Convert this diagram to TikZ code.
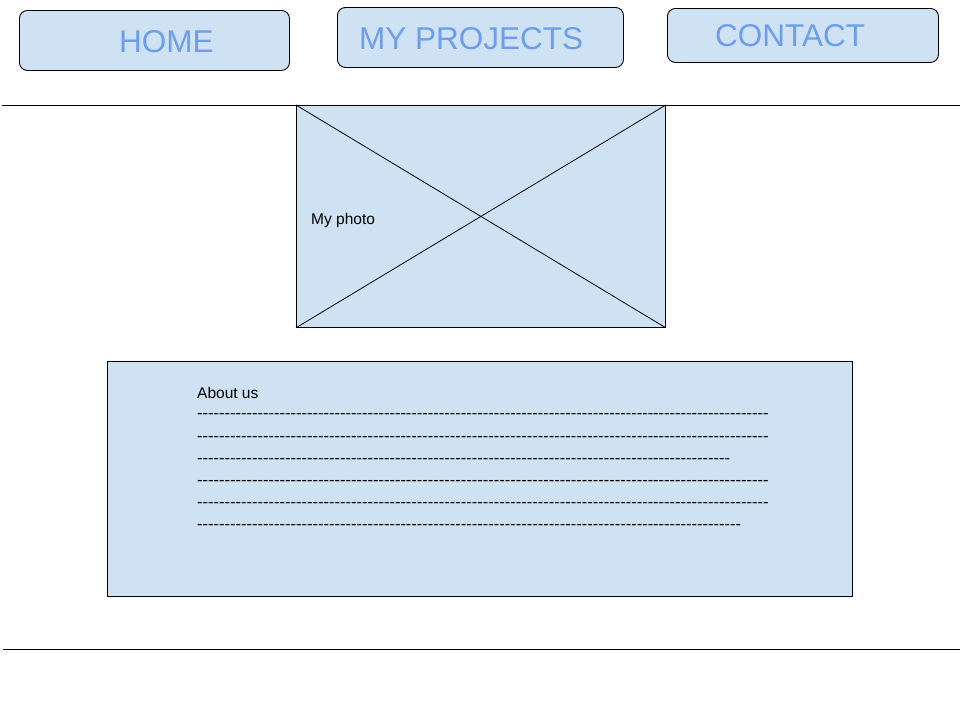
\documentclass[tikz,border=0pt]{standalone}
\usepackage{fontspec}
\setmainfont{Liberation Sans}
\definecolor{paneblue}{HTML}{CFE2F3}
\definecolor{navtext}{HTML}{6D9EEB}
% a row of n plain hyphens (kept apart so no dash ligature forms)
\def\hyrow#1{\ifnum#1>0 -{}\expandafter\hyrow\expandafter{\the\numexpr#1-1\relax}\fi}
\tikzset{
  navbtn/.style={draw=black, line width=0.9pt, fill=paneblue, rounded corners=8pt,
    anchor=north west, inner sep=0pt},
  navlabel/.style={anchor=base west, inner sep=0pt, text=navtext,
    font=\fontsize{31.5}{31.5}\selectfont},
  panel/.style={draw=black, line width=0.8pt, fill=paneblue, anchor=north west, inner sep=0pt},
  bodytext/.style={anchor=base west, inner sep=0pt, font=\fontsize{15.5}{15.5}\selectfont},
  dashrow/.style={anchor=base west, inner sep=0pt, font=\fontsize{16.5}{16.5}\selectfont},
  rule/.style={line width=0.9pt},
}
\begin{document}
\begin{tikzpicture}[x=1pt,y=-1pt]
\useasboundingbox[fill=white] (0,0) rectangle (960,720);

% navigation buttons
\node[navbtn, minimum width=270pt, minimum height=60pt] (home) at (19,10) {};
\node[navbtn, minimum width=286pt, minimum height=60pt] (proj) at (337,7) {};
\node[navbtn, minimum width=271pt, minimum height=54pt] (cont) at (667,8) {};
\node[navlabel] (homet) at (119,52) {HOME};
\node[navlabel] (projt) at (359,49) {MY PROJECTS};
\node[navlabel] (contt) at (715,46) {CONTACT};

% header and footer rules
\coordinate (hl) at (2,105);
\coordinate (hr) at (960,105);
\coordinate (fl) at (3,649);
\coordinate (fr) at (960,649);

% photo placeholder
\node[panel, minimum width=369pt, minimum height=222pt] (photo) at (296,105) {};
\draw[line width=0.8pt] (photo.north west) -- (photo.south east);
\draw[line width=0.8pt] (photo.south west) -- (photo.north east);
\node[bodytext] (phototext) at (311,224) {My photo};

\draw[rule] (hl) -- (hr);
\draw[rule] (fl) -- (fr);

% about section
\node[panel, minimum width=745pt, minimum height=235pt] (about) at (107,361) {};
\node[bodytext] (abouttitle) at (197,398) {About us};
\node[dashrow] (row1) at (197,418) {\hyrow{104}};
\node[dashrow] (row2) at (197,441) {\hyrow{104}};
\node[dashrow] (row3) at (197,463) {\hyrow{97}};
\node[dashrow] (row4) at (197,485) {\hyrow{104}};
\node[dashrow] (row5) at (197,507) {\hyrow{104}};
\node[dashrow] (row6) at (197,529) {\hyrow{99}};
\end{tikzpicture}
\end{document}
